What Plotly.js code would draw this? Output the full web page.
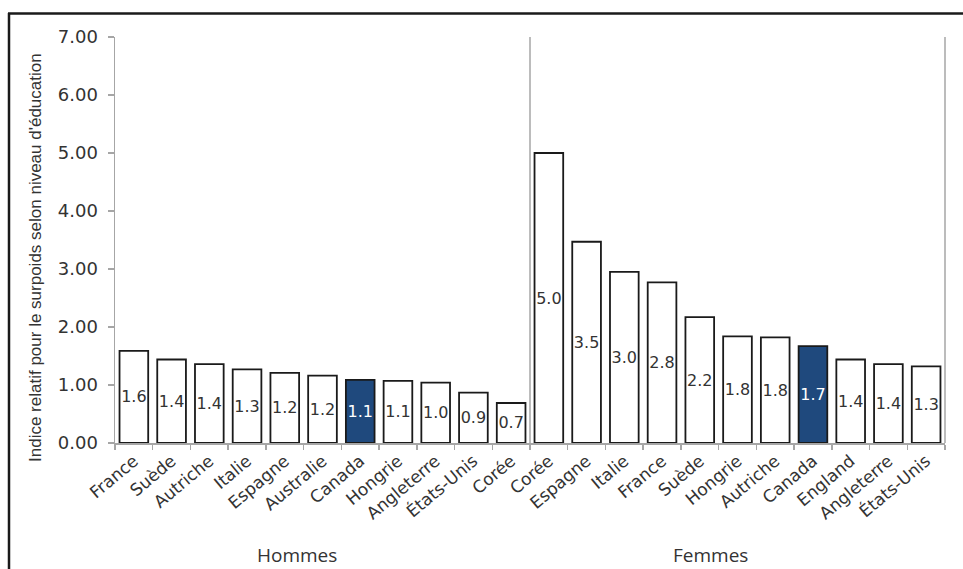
<!DOCTYPE html>
<html>
<head>
<meta charset="utf-8">
<script src="https://cdn.plot.ly/plotly-3.0.1.min.js"></script>
<style>
  html, body { margin: 0; padding: 0; background: #ffffff; }
  #chart { width: 963px; height: 569px; }
</style>
</head>
<body>
<div id="chart"></div>
<script>
// ---- data ----
var menCategories = ['France', 'Suède', 'Autriche', 'Italie', 'Espagne', 'Australie', 'Canada', 'Hongrie', 'Angleterre', 'États-Unis', 'Corée'];
var menValues = [1.59, 1.44, 1.36, 1.27, 1.21, 1.16, 1.09, 1.07, 1.04, 0.87, 0.69];
var womenCategories = ['Corée', 'Espagne', 'Italie', 'France', 'Suède', 'Hongrie', 'Autriche', 'Canada', 'England', 'Angleterre', 'États-Unis'];
var womenValues = [5.0, 3.47, 2.95, 2.77, 2.17, 1.84, 1.82, 1.67, 1.44, 1.36, 1.32];
var groupLabels = ['Hommes', 'Femmes'];
var yTitle = "Indice relatif pour le surpoids selon niveau d'éducation";
var yTickValues = [0, 1, 2, 3, 4, 5, 6, 7];

// ---- styles ----
var highlight = 'Canada';
var hiColor = '#1F497D';
var textDark = '#333333';
var axisGray = '#a6a6a6';

function barTrace(cats, vals, xa) {
  return {
    type: 'bar',
    x: cats,
    y: vals,
    xaxis: xa,
    yaxis: 'y',
    marker: {
      color: cats.map(function (c) { return c === highlight ? hiColor : '#ffffff'; }),
      line: { color: '#1a1a1a', width: 1.8 }
    },
    texttemplate: '%{y:.1f}',
    textposition: 'inside',
    insidetextanchor: 'middle',
    textangle: 0,
    constraintext: 'none',
    textfont: {
      family: 'DejaVu Sans, sans-serif',
      size: 16,
      color: cats.map(function (c) { return c === highlight ? '#ffffff' : textDark; })
    },
    hoverinfo: 'skip'
  };
}

var data = [
  barTrace(menCategories, menValues, 'x'),
  barTrace(womenCategories, womenValues, 'x2')
];

// plot area in px: left 115, right 945, top 37, bottom 443
var L = 115, R = 945, T = 37, B = 443;
function px(x) { return (x - L) / (R - L); }
function py(y) { return (B - y) / (B - T); }

var xCommon = {
  type: 'category',
  anchor: 'y',
  showline: true,
  linecolor: axisGray,
  linewidth: 1.5,
  ticks: 'outside',
  tickson: 'boundaries',
  ticklen: 5,
  tickcolor: axisGray,
  tickwidth: 1.5,
  tickangle: -40,
  tickfont: { family: 'DejaVu Sans, sans-serif', size: 17, color: textDark },
  showgrid: false,
  zeroline: false,
  automargin: false,
  fixedrange: true
};

var layout = {
  width: 963,
  height: 569,
  margin: { l: L, r: 963 - R, t: T, b: 569 - B, pad: 0 },
  paper_bgcolor: '#ffffff',
  plot_bgcolor: '#ffffff',
  showlegend: false,
  bargap: 0.24,
  xaxis: Object.assign({}, xCommon, { domain: [0, 0.5] }),
  xaxis2: Object.assign({}, xCommon, { domain: [0.5, 1] }),
  yaxis: {
    range: [0, 7],
    tickvals: yTickValues,
    tickformat: '.2f',
    showline: true,
    linecolor: axisGray,
    linewidth: 1.5,
    ticks: 'outside',
    ticklen: 6,
    tickcolor: axisGray,
    tickwidth: 1.5,
    ticklabelstandoff: 6,
    tickfont: { family: 'DejaVu Sans, sans-serif', size: 18, color: textDark },
    showgrid: false,
    zeroline: false,
    automargin: false,
    fixedrange: true
  },
  shapes: [
    // divider between groups and right edge line
    { type: 'line', xref: 'paper', yref: 'paper', x0: 0.5, x1: 0.5, y0: 0, y1: 1,
      line: { color: axisGray, width: 1.5 } },
    { type: 'line', xref: 'paper', yref: 'paper', x0: 1, x1: 1, y0: 0, y1: 1,
      line: { color: axisGray, width: 1.5 } },
    // outer frame (top and left)
    { type: 'line', xref: 'paper', yref: 'paper', x0: px(8), x1: px(963), y0: py(13.5), y1: py(13.5),
      line: { color: '#1a1a1a', width: 2.5 } },
    { type: 'line', xref: 'paper', yref: 'paper', x0: px(9), x1: px(9), y0: py(13), y1: py(569),
      line: { color: '#1a1a1a', width: 2.5 } }
  ],
  annotations: [
    { text: yTitle, xref: 'paper', yref: 'paper', x: px(35), y: py(258),
      xanchor: 'center', yanchor: 'middle', textangle: -90, showarrow: false,
      font: { family: 'Liberation Sans, Arial, sans-serif', size: 17, color: textDark } },
    { text: groupLabels[0], xref: 'paper', yref: 'paper', x: px(297), y: py(570),
      xanchor: 'center', yanchor: 'bottom', showarrow: false,
      font: { family: 'Open Sans, sans-serif', size: 19, color: textDark } },
    { text: groupLabels[1], xref: 'paper', yref: 'paper', x: px(710), y: py(570),
      xanchor: 'center', yanchor: 'bottom', showarrow: false,
      font: { family: 'Open Sans, sans-serif', size: 19, color: textDark } }
  ]
};

Plotly.newPlot('chart', data, layout, { displayModeBar: false, staticPlot: true });
</script>
</body>
</html>
